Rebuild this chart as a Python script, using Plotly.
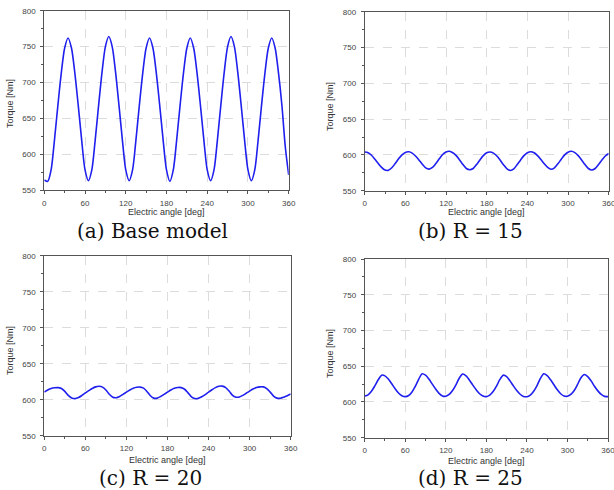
import plotly.graph_objects as go

# ---------------- data ----------------
angle_deg = list(range(0, 361, 5))

torque_base = [564, 562, 578, 620, 668, 713, 748, 762, 748, 713, 668, 620, 578,
               563, 578, 620, 668, 714, 750, 764, 750, 714, 668, 620, 578,
               563, 578, 620, 668, 713, 748, 762, 748, 713, 668, 620, 578,
               562, 578, 620, 668, 713, 748, 762, 748, 713, 668, 620, 578,
               563, 578, 620, 668, 714, 750, 764, 750, 714, 668, 620, 578,
               563, 578, 620, 668, 713, 748, 762, 748, 713, 668, 610, 571]

torque_r15 = [604, 603, 599.5, 594, 588, 582.5, 578.8, 578.5, 582, 588, 594.5, 600, 603.5,
              604.3, 602.5, 598.5, 593, 587, 582, 580.2, 582.5, 588, 594.5, 600.5, 604,
              605, 603, 599, 593, 586.5, 581, 579.2, 581, 586.5, 593, 599, 603,
              604, 602.5, 598.5, 592.5, 586, 580.5, 578.2, 580.5, 586.5, 593, 599, 603,
              604.5, 603, 599, 593.5, 587.5, 582.5, 580, 582, 587.5, 594, 600, 603.8,
              605, 603.2, 599, 593, 586.5, 581, 579, 581, 586.5, 593, 598.5, 602]

torque_r20 = [610.7, 613.5, 615.5, 616.5, 616.8, 615.5, 611.5, 606, 602.5, 601.5, 603, 606, 609.5,
              612.5, 615.5, 617.8, 618.6, 617.5, 613.5, 607.5, 603.5, 602.8, 604.5, 607.5, 610.5,
              613.5, 616, 617.3, 617.5, 616, 611.5, 605.5, 602.2, 602.2, 604.5, 607.5, 610.5,
              613.5, 615.8, 617, 616.8, 614.5, 609.5, 604, 601.6, 601.8, 604, 607, 610.5,
              613.8, 616.8, 618.6, 618.8, 616.8, 612, 606, 603.5, 603.8, 606, 609, 612,
              614.8, 616.8, 617.8, 617.8, 615.5, 610.5, 605, 602.2, 602, 603.5, 605.5, 607.8]

torque_r25 = [608.3, 610, 615, 622.5, 631, 637.5, 636.5, 632, 625.5, 618.5, 612.5, 608.8, 607.5,
              609, 614, 622, 632, 639.5, 637.5, 632, 625, 618, 612, 608.5, 608,
              610.5, 616, 624, 633.5, 639, 636.5, 630.5, 623.5, 617, 611.5, 608.3, 607.5,
              609.5, 614.5, 622, 631.5, 637.5, 635.5, 629.5, 622.5, 616, 610.8, 607.8, 607.3,
              609.5, 615, 623, 633, 639.5, 637, 631, 624, 617, 611.5, 608.3, 608,
              610.5, 616, 624.5, 634, 638.5, 635.5, 629.5, 622, 615.5, 610.5, 607.8, 607.4]

captions = ["(a) Base model", "(b) R = 15", "(c) R = 20", "(d) R = 25"]
x_tick_vals = [0, 60, 120, 180, 240, 300, 360]
y_tick_vals = [550, 600, 650, 700, 750, 800]
x_title = "Electric angle [deg]"
y_title = "Torque [Nm]"

# ---------------- layout geometry (pixels) ----------------
W, H = 614, 490
panels = [
    # (left, right, top, bottom) of plot area in px
    (44.3, 288.7, 10.7, 190.0),
    (364.7, 608.7, 11.7, 190.7),
    (44.3, 290.7, 255.7, 435.7),
    (364.7, 608.0, 259.0, 437.7),
]
caption_pos = [(152, 231), (470, 231), (150, 478), (470, 478)]
xtitle_y = [212, 212, 460, 461]
ytitle_pos = [(10, 104), (330, 107), (10, 351), (330, 354)]

series = [torque_base, torque_r15, torque_r20, torque_r25]

fig = go.Figure()
axis_font = dict(family="Liberation Sans, Arial, sans-serif", size=8, color="#444444")

for i, (vals, (l, r, t, b)) in enumerate(zip(series, panels)):
    n = "" if i == 0 else str(i + 1)
    fig.add_trace(go.Scatter(
        x=angle_deg, y=vals, mode="lines",
        line=dict(color="#1f1fee", width=1.6, shape="spline", smoothing=0.8),
        xaxis="x" + n, yaxis="y" + n, showlegend=False, hoverinfo="skip"))
    common = dict(showline=True, linecolor="#555555", linewidth=1, mirror=True,
                  ticks="outside", ticklen=3, tickwidth=1, tickcolor="#555555",
                  showgrid=True, gridcolor="#dcdcdc", griddash="dash", gridwidth=1,
                  zeroline=False, tickfont=axis_font, automargin=False,
                  ticklabeloverflow="allow")
    fig.update_layout(**{
        "xaxis" + n: dict(domain=[l / W, r / W], anchor="y" + n, range=[0, 360],
                          tickvals=x_tick_vals,
                          minor=dict(dtick=30, tick0=0, ticks="outside", ticklen=2,
                                     tickcolor="#555555", showgrid=False),
                          ticklabelstandoff=2, **common),
        "yaxis" + n: dict(domain=[(H - b) / H, (H - t) / H], anchor="x" + n,
                          range=[550, 800], tickvals=y_tick_vals,
                          minor=dict(dtick=25, tick0=550, ticks="outside", ticklen=2,
                                     tickcolor="#555555", showgrid=False),
                          ticklabelstandoff=3, **common),
    })
    cx, cy = caption_pos[i]
    fig.add_annotation(x=cx / W, y=(H - cy) / H, xref="paper", yref="paper",
                       text=captions[i], showarrow=False, xanchor="center", yanchor="middle",
                       font=dict(family="DejaVu Serif, serif", size=20, color="#111111"))
    fig.add_annotation(x=((l + r) / 2) / W, y=(H - xtitle_y[i]) / H, xref="paper", yref="paper",
                       text=x_title, showarrow=False, xanchor="center", yanchor="middle",
                       font=dict(family="Liberation Sans, Arial, sans-serif", size=9, color="#333333"))
    tx, ty = ytitle_pos[i]
    fig.add_annotation(x=tx / W, y=(H - ty) / H, xref="paper", yref="paper",
                       text=y_title, showarrow=False, textangle=-90,
                       xanchor="center", yanchor="middle",
                       font=dict(family="Liberation Sans, Arial, sans-serif", size=9, color="#333333"))

fig.update_layout(width=W, height=H, margin=dict(l=0, r=0, t=0, b=0, pad=0, autoexpand=False),
                  paper_bgcolor="white", plot_bgcolor="white")

fig.write_html("out.html", config={"displayModeBar": False},
               post_script="document.body.style.margin='0';document.body.style.padding='0';"
                           "document.body.style.overflow='hidden';")
